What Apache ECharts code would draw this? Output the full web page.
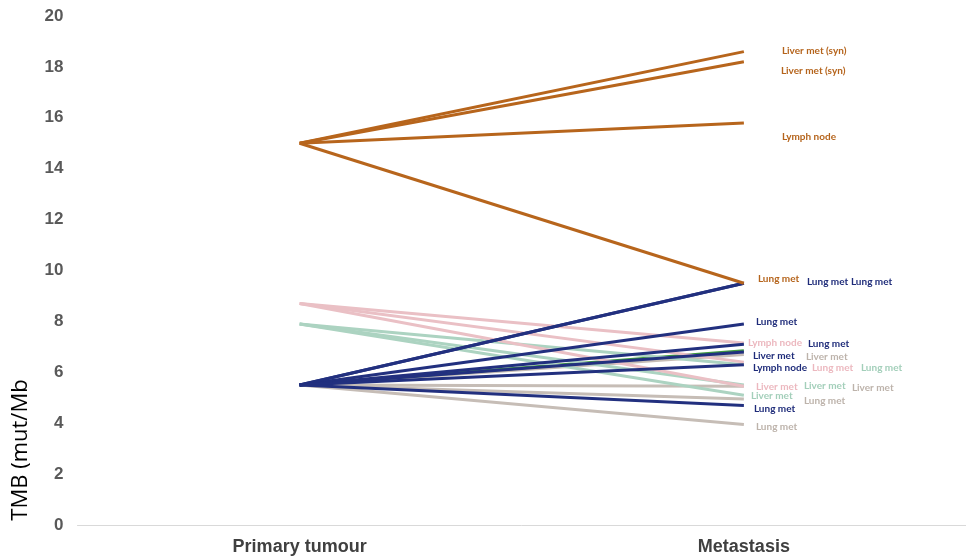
<!DOCTYPE html>
<html>
<head>
<meta charset="utf-8">
<script src="https://cdn.jsdelivr.net/npm/echarts@6/dist/echarts.min.js"></script>
<style>html,body{margin:0;padding:0;background:#fff;}#c{width:966px;height:558px;}</style>
</head>
<body>
<div id="c"></div>
<script>
// ---- data ----
var categories = ['Primary tumour', 'Metastasis'];
var yTicks = [0, 2, 4, 6, 8, 10, 12, 14, 16, 18, 20];

var brownStart = 15;
var brownEnds = [18.6, 18.2, 15.8, 9.5];
var brownLabels = ['Liver met (syn)', 'Liver met (syn)', 'Lymph node', 'Lung met'];

var navyStart = 5.5;
var navyEnds = [9.5, 9.5, 7.9, 7.1, 6.8, 6.3, 4.7];
var navyLabels = ['Lung met', 'Lung met', 'Lung met', 'Lung met', 'Liver met', 'Lymph node', 'Lung met'];

var pinkStart = 8.7;
var pinkEnds = [7.15, 6.4, 5.45];
var pinkLabels = ['Lymph node', 'Lung met', 'Liver met'];

var greenStart = 7.9;
var greenEnds = [6.3, 5.5, 5.1];
var greenLabels = ['Lung met', 'Liver met', 'Liver met'];

var darkGreenStart = 5.5;
var darkGreenEnds = [6.85];
var darkGreenLabels = [''];

var greyStart = 5.5;
var greyEnds = [6.7, 5.45, 4.95, 3.95];
var greyLabels = ['Liver met', 'Liver met', 'Lung met', 'Lung met'];

// ---- label placement (styling) ----
var brownOffsets = [[33, -1], [32, 9], [33, 14], [9, -4]];
var navyOffsets = [[58, -1], [102, -1], [7, -2], [59, -1], [4, 4], [4, 3], [5, 3]];
var pinkOffsets = [[-1, 0], [63, 6], [7, 0]];
var greenOffsets = [[112, 3], [55, 1], [2, 1]];
var darkGreenOffsets = [[0, 0]];
var greyOffsets = [[57, 2], [103, 1], [55, 2], [7, 2]];

var groups = [
  {start: greyStart, ends: greyEnds, labels: greyLabels, offs: greyOffsets, line: '#c6bdb6', text: '#bdb3ab'},
  {start: darkGreenStart, ends: darkGreenEnds, labels: darkGreenLabels, offs: darkGreenOffsets, line: '#3f9a3f', text: '#3f9a3f'},
  {start: greenStart, ends: greenEnds, labels: greenLabels, offs: greenOffsets, line: '#acd3c1', text: '#a3cfba'},
  {start: pinkStart, ends: pinkEnds, labels: pinkLabels, offs: pinkOffsets, line: '#eac0c5', text: '#ecb8bf'},
  {start: navyStart, ends: navyEnds, labels: navyLabels, offs: navyOffsets, line: '#22307f', text: '#1f2c7a'},
  {start: brownStart, ends: brownEnds, labels: brownLabels, offs: brownOffsets, line: '#b7651c', text: '#b5641c'}
];

var series = [];
groups.forEach(function (g) {
  g.ends.forEach(function (e, i) {
    series.push({
      type: 'line',
      silent: true,
      symbol: 'circle',
      symbolSize: 0,
      showSymbol: true,
      lineStyle: {color: g.line, width: 3},
      itemStyle: {color: g.line},
      data: [
        {value: g.start, label: {show: false}},
        {value: e, label: {
          show: g.labels[i] !== '',
          position: 'right',
          distance: 5,
          offset: g.offs[i],
          formatter: g.labels[i],
          color: g.text,
          fontFamily: 'Lato',
          fontWeight: 'bold',
          fontSize: 10
        }}
      ],
      animation: false
    });
  });
});

var chart = echarts.init(document.getElementById('c'), null, {renderer: 'canvas'});
chart.setOption({
  animation: false,
  backgroundColor: '#ffffff',
  grid: {left: 77.5, top: 16, width: 890, bottom: 33, containLabel: false},
  xAxis: {
    type: 'category',
    data: categories,
    boundaryGap: true,
    axisLine: {show: true, lineStyle: {color: '#d9d9d9', width: 1}},
    axisTick: {show: false},
    axisLabel: {color: '#404040', fontFamily: 'Liberation Sans, Arial', fontWeight: 'bold', fontSize: 18, margin: 13}
  },
  yAxis: {
    type: 'value',
    min: yTicks[0],
    max: yTicks[yTicks.length - 1],
    interval: 2,
    axisLine: {show: false},
    axisTick: {show: false},
    splitLine: {show: false},
    axisLabel: {color: '#595959', fontFamily: 'Liberation Sans, Arial', fontWeight: 'bold', fontSize: 17, margin: 14}
  },
  graphic: [{
    type: 'text',
    x: 21, y: 450,
    rotation: Math.PI / 2,
    style: {
      text: 'TMB (mut/Mb',
      fill: '#000000',
      font: '22px "Open Sans", Lato, sans-serif',
      textAlign: 'center',
      textVerticalAlign: 'middle'
    }
  }],
  series: series
});
</script>
</body>
</html>
